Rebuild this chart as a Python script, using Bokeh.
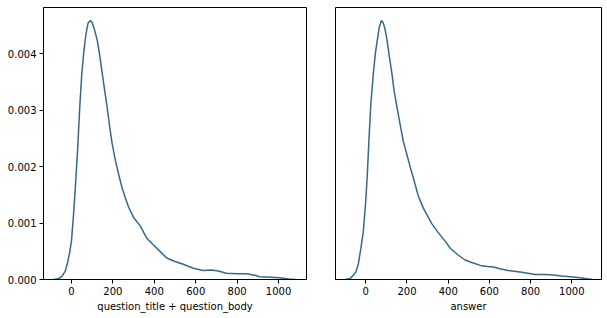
from bokeh.plotting import figure
from bokeh.layouts import row
from bokeh.models import FixedTicker, Range1d
from bokeh.embed import file_html
from bokeh.resources import INLINE

# Left panel: KDE of question_title + question_body length
q_x = [-85, -60, -45, -30, -20, -10, 0, 10, 20, 30, 40, 50, 60, 70, 80, 91,
       100, 110, 124, 136, 148, 160, 172, 184, 196, 212, 228, 244, 260, 276,
       300, 332, 364, 396, 430, 460, 500, 540, 588, 636, 676, 710, 748, 800,
       845, 880, 909, 960, 1005, 1050, 1085]
q_y = [0.0, 0.00002, 0.00006, 0.00015, 0.00028, 0.00045, 0.00068, 0.00115,
       0.0017, 0.00232, 0.00305, 0.00365, 0.00405, 0.00435, 0.00454, 0.00459,
       0.00455, 0.00444, 0.00425, 0.00398, 0.00367, 0.00336, 0.00306, 0.00272,
       0.00242, 0.00211, 0.00186, 0.00163, 0.00145, 0.00128, 0.00110, 0.00095,
       0.00073, 0.00061, 0.00049, 0.00038, 0.00032, 0.00027, 0.00020, 0.00016,
       0.00017, 0.00015, 0.00011, 0.00010, 0.00010, 0.00008, 0.00005, 0.00004,
       0.00003, 0.00001, 0.0]

# Right panel: KDE of answer length
a_x = [-100, -75, -60, -48, -36, -24, -12, 0, 8, 15, 24, 37, 47, 57, 66, 76,
       84, 92, 102, 113, 126, 137, 150, 165, 182, 202, 215, 232, 255, 280, 298,
       320, 350, 385, 411, 450, 480, 514, 556, 590, 620, 650, 692, 757, 822,
       870, 911, 950, 992, 1040, 1081, 1100]
a_y = [0.0, 0.00002, 0.00008, 0.00013, 0.00028, 0.00055, 0.00085, 0.0014,
       0.0019, 0.00245, 0.00308, 0.00367, 0.00402, 0.00427, 0.00448, 0.00459,
       0.00455, 0.00446, 0.00427, 0.00398, 0.00367, 0.00335, 0.00308, 0.00278,
       0.00245, 0.00218, 0.00200, 0.00178, 0.00148, 0.00126, 0.00114, 0.00099,
       0.00084, 0.00068, 0.00055, 0.00043, 0.00035, 0.00030, 0.00025, 0.00023,
       0.00022, 0.00019, 0.00016, 0.00013, 0.00009, 0.00009, 0.00008, 0.00006,
       0.00005, 0.00003, 0.00001, 0.0]

x_ticks = [0, 200, 400, 600, 800, 1000]
y_ticks = [0.0, 0.001, 0.002, 0.003, 0.004]
y_tick_labels = ["0.000", "0.001", "0.002", "0.003", "0.004"]

LINE = "#34698c"
FONT = "DejaVu Sans"


def make(xlabel, xs, ys, xr, width, left, right, show_y):
    p = figure(width=width, height=318, output_backend="svg", toolbar_location=None,
               x_range=Range1d(*xr), y_range=Range1d(0, 0.00482),
               min_border_left=left, min_border_right=right,
               min_border_top=7, min_border_bottom=39,
               frame_height=272, frame_width=width - left - right)
    p.line(xs, ys, line_color=LINE, line_width=1.5)
    p.grid.visible = False
    p.outline_line_color = "black"
    p.outline_line_width = 1
    p.background_fill_color = "white"
    p.border_fill_color = "white"
    p.xaxis.ticker = FixedTicker(ticks=x_ticks)
    p.xaxis.axis_label = xlabel
    for ax in [p.xaxis[0], p.yaxis[0]]:
        ax.minor_tick_line_color = None
        ax.major_tick_in = 0
        ax.major_tick_out = 4
        ax.major_tick_line_color = "black"
        ax.axis_line_color = "black"
        ax.major_label_text_font = FONT
        ax.major_label_text_font_size = "10px"
        ax.major_label_text_color = "black"
        ax.axis_label_text_font = FONT
        ax.axis_label_text_font_size = "10px"
        ax.axis_label_text_font_style = "normal"
        ax.axis_label_text_color = "black"
    p.xaxis.major_label_standoff = 3
    p.xaxis.axis_label_standoff = 3
    p.yaxis.ticker = FixedTicker(ticks=y_ticks)
    p.yaxis.major_label_overrides = {t: s for t, s in zip(y_ticks, y_tick_labels)}
    p.yaxis.major_label_standoff = 3
    if not show_y:
        p.yaxis.visible = False
    return p


p1 = make("question_title + question_body", q_x, q_y, (-135, 1135), 320, 43, 14, True)
p2 = make("answer", a_x, a_y, (-147, 1144), 287, 15, 6, False)

layout = row(p1, p2, spacing=0)
open("out.html", "w").write(file_html(layout, INLINE))
